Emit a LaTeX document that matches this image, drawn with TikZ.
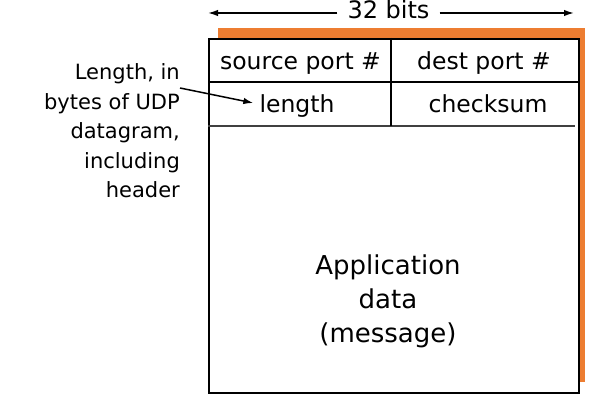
\documentclass[tikz,border=0pt]{standalone}
\usepackage{fontspec}
\setmainfont{DejaVu Sans}
\usetikzlibrary{arrows.meta,calc}
\definecolor{shadow}{RGB}{237,125,49}
\tikzset{
  lbl/.style={inner sep=0pt, anchor=base, font=\fontsize{23.5}{28}\selectfont},
  applbl/.style={inner sep=0pt, anchor=base, font=\fontsize{26}{33}\selectfont},
  notelbl/.style={inner sep=0pt, anchor=base east, font=\fontsize{21}{28}\selectfont},
  frameline/.style={line width=1.8pt, black},
  rowline/.style={line width=1.8pt, black!75},
  ptr/.style={line width=1.5pt, -{Latex[length=10pt,width=6.5pt]}},
}
\begin{document}
\begin{tikzpicture}[x=1pt,y=-1pt]
\useasboundingbox (0,0) rectangle (607,411);
% shadow
\fill[shadow] (218,28) rectangle (585,382);
% main box
\node[frameline, draw, fill=white, minimum width=370pt, minimum height=354pt, inner sep=0pt, anchor=north west] (box) at (208,38) {};
% rows
\coordinate (r1l) at (208,82);
\coordinate (r1r) at (578,82);
\coordinate (r2l) at (208,126);
\coordinate (r2r) at (575,126);
\coordinate (vt) at (391,38);
\coordinate (vb) at (391,126);
\draw[frameline] (r1l) -- (r1r);
\draw[rowline] (r2l) -- (r2r);
\draw[frameline] (vt) -- (vb);
% texts
\node[lbl] (src) at (300.5,70) {source port \#};
\node[lbl] (dst) at (484,70) {dest port \#};
\node[lbl] (len) at (297,113) {length};
\node[lbl] (chk) at (488,113) {checksum};
\node[applbl] (app1) at (388,275) {Application};
\node[applbl] (app2) at (388,308.5) {data};
\node[applbl] (app3) at (388,342) {(message)};
% 32 bits
\node[lbl, font=\fontsize{24}{28}\selectfont, fill=white, inner xsep=10pt, inner ysep=2pt] (bits) at (388.5,19) {32 bits};
\coordinate (bl) at (208,13);
\coordinate (br) at (574,13);
\draw[ptr] (bits.west |- bl) -- (bl);
\draw[ptr] (bits.east |- br) -- (br);
% left annotation
\node[notelbl] (n1) at (180,80) {Length, in};
\node[notelbl] (n2) at (180,109.5) {bytes of UDP};
\node[notelbl] (n3) at (180,139) {datagram,};
\node[notelbl] (n4) at (180,168.5) {including};
\node[notelbl] (n5) at (180,198) {header};
\coordinate (ns) at (180,88);
\coordinate (ne) at ($(len.base west)+(-6,-10)$);
\draw[ptr] (ns) -- (ne);
\end{tikzpicture}
\end{document}
